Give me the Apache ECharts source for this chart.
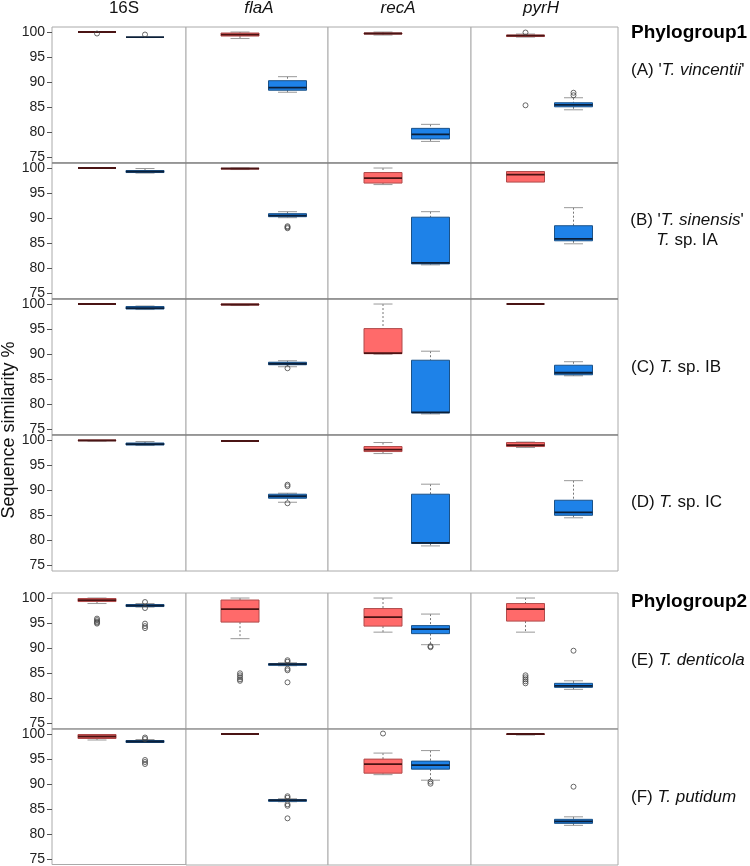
<!DOCTYPE html>
<html>
<head>
<meta charset="utf-8">
<script src="https://cdn.jsdelivr.net/npm/echarts@6/dist/echarts.min.js"></script>
<style>html,body{margin:0;padding:0;background:#fff}#c{width:750px;height:866px}</style>
</head>
<body>
<div id="c"></div>
<script>
// ---------------- DATA ----------------
const genes = ['16S', 'flaA', 'recA', 'pyrH'];
const geneItalic = [false, true, true, true];
const yTicks = [75, 80, 85, 90, 95, 100];
const groupPositions = [1, 2]; // red (within-taxon), blue (between-taxa)

// [min, q1, median, q3, max] per gene: [red, blue]
const statsA = [
  [[100, 100, 100, 100, 100], [98.9, 99.0, 99.0, 99.05, 99.1]],
  [[98.7, 99.2, 99.5, 99.8, 100], [88.0, 88.4, 88.9, 90.3, 91.1]],
  [[99.4, 99.6, 99.7, 99.8, 100], [78.2, 78.7, 79.6, 80.8, 81.6]],
  [[99.0, 99.1, 99.3, 99.4, 99.6], [84.5, 85.1, 85.5, 85.9, 86.9]]
];
const outliersA = [[[99.7], [99.5]], [[], []], [[], []], [[99.9, 85.4], [87.9, 87.4]]];

const statsB = [
  [[100, 100, 100, 100, 100], [99.0, 99.1, 99.3, 99.5, 99.9]],
  [[99.7, 99.8, 99.9, 99.9, 100], [90.1, 90.3, 90.5, 90.9, 91.3]],
  [[96.7, 97.0, 98.0, 99.1, 100], [80.7, 80.9, 81.1, 90.2, 91.3]],
  [[97.2, 97.2, 98.7, 99.3, 99.3], [84.9, 85.5, 85.9, 88.5, 92.1]]
];
const outliersB = [[[], []], [[], [88.4, 88.2, 88.0]], [[], []], [[], []]];

const statsC = [
  [[100, 100, 100, 100, 100], [98.9, 99.0, 99.2, 99.5, 99.6]],
  [[99.7, 99.8, 99.9, 100, 100], [87.5, 87.9, 88.1, 88.4, 88.7]],
  [[90.0, 90.1, 90.2, 95.1, 100], [78.1, 78.3, 78.4, 88.8, 90.6]],
  [[100, 100, 100, 100, 100], [85.7, 85.9, 86.3, 87.8, 88.5]]
];
const outliersC = [[[], []], [[], [87.2]], [[], []], [[], []]];

const statsD = [
  [[99.8, 99.9, 99.9, 100, 100], [98.9, 99.0, 99.2, 99.4, 99.7]],
  [[99.8, 99.8, 99.8, 99.8, 99.8], [87.6, 88.4, 88.8, 89.2, 89.4]],
  [[97.3, 97.7, 98.1, 98.7, 99.5], [78.9, 79.4, 79.5, 89.2, 91.2]],
  [[98.5, 98.7, 99.0, 99.5, 99.6], [84.5, 85.0, 85.6, 88.0, 91.9]]
];
const outliersD = [[[], []], [[], [91.1, 90.8, 87.4]], [[], []], [[], []]];

const statsE = [
  [[98.9, 99.3, 99.6, 99.9, 100], [98.2, 98.3, 98.5, 98.7, 98.9]],
  [[91.9, 95.2, 97.8, 99.6, 100], [86.5, 86.6, 86.8, 86.9, 87.1]],
  [[93.2, 94.4, 96.2, 97.9, 100], [90.7, 92.9, 93.8, 94.5, 96.8]],
  [[93.2, 95.4, 97.8, 98.9, 100], [81.8, 82.2, 82.5, 83.0, 83.5]]
];
const outliersE = [
  [[95.9, 95.6, 95.3, 95.1, 94.9], [99.2, 98.0, 94.9, 94.4, 94.0]],
  [[85.0, 84.6, 84.2, 83.8, 83.5], [87.6, 87.3, 85.9, 85.6, 83.2]],
  [[], [90.4, 90.2]],
  [[84.6, 84.2, 83.8, 83.4, 83.0], [89.5]]
];

const statsF = [
  [[98.8, 99.1, 99.5, 99.9, 100], [98.2, 98.3, 98.5, 98.7, 98.9]],
  [[99.9, 100, 100, 100, 100], [86.5, 86.6, 86.8, 86.9, 87.1]],
  [[91.9, 92.2, 94.0, 95.0, 96.2], [90.8, 93.0, 93.8, 94.6, 96.7]],
  [[99.8, 99.9, 100, 100, 100], [81.8, 82.2, 82.6, 83.0, 83.5]]
];
const outliersF = [
  [[], [99.3, 99.0, 94.8, 94.4, 94.0]],
  [[], [87.6, 87.3, 86.0, 85.7, 83.2]],
  [[100.1], [90.5, 90.1]],
  [[], [89.5]]
];

const rowStats = [statsA, statsB, statsC, statsD, statsE, statsF];
const rowOutliers = [outliersA, outliersB, outliersC, outliersD, outliersE, outliersF];

// ---------------- LAYOUT / STYLE ----------------
const FONT = 'Liberation Sans, Arial, Helvetica, sans-serif';
const colLeft = [52, 186, 328, 471];
const colRight = [186, 328, 471, 618];
const redX = [97, 240, 383, 525.5];
const blueX = [145, 287.5, 430.5, 573.5];
const rowTop = [27, 163, 299, 435, 593, 729];
const rowH = 136;
const yMin = 73.9, yMax = 101;
const palette = [
  { fill: '#ff6a6a', stroke: '#b04a4a', median: '#4a1414' },
  { fill: '#1e82e8', stroke: '#1b5288', median: '#0b1f38' }
];

const grids = [], xAxes = [], yAxes = [], series = [];
let idx = 0;
for (let r = 0; r < 6; r++) {
  for (let c = 0; c < 4; c++) {
    const unit = blueX[c] - redX[c];
    const xmin = groupPositions[0] - (redX[c] - colLeft[c]) / unit;
    const xmax = xmin + (colRight[c] - colLeft[c]) / unit;
    grids.push({
      left: colLeft[c], top: rowTop[r], width: colRight[c] - colLeft[c], height: rowH,
      show: true, borderColor: '#aaaaaa', borderWidth: 1, backgroundColor: '#fff'
    });
    xAxes.push({ type: 'value', gridIndex: idx, min: xmin, max: xmax, show: false });
    const first = c === 0;
    yAxes.push({
      type: 'value', gridIndex: idx, min: yMin, max: yMax,
      splitLine: { show: false },
      axisLine: { show: false },
      axisTick: first ? { show: true, customValues: yTicks, length: 5, lineStyle: { color: '#555' } } : { show: false },
      axisLabel: first ? {
        show: true, customValues: yTicks, margin: 7, fontSize: 14, color: '#222', fontFamily: FONT,
        formatter: v => (Math.abs(v % 5) < 1e-6 ? String(v) : '')
      } : { show: false }
    });
    const st = rowStats[r][c];
    const boxData = st.map((s, k) => [groupPositions[k], s[0], s[1], s[2], s[3], s[4], k]);
    series.push({
      type: 'custom', xAxisIndex: idx, yAxisIndex: idx, clip: false, silent: true,
      data: boxData,
      renderItem: (params, api) => {
        const x = api.value(0);
        const P = k => api.coord([x, api.value(k)]);
        const pMin = P(1), pQ1 = P(2), pMed = P(3), pQ3 = P(4), pMax = P(5);
        const cx = pMin[0];
        const hw = 19, cw = 9.5;
        const col = palette[api.value(6)];
        const children = [];
        if (pMax[1] < pQ3[1] - 0.5) {
          children.push({ type: 'line', shape: { x1: cx, y1: pMax[1], x2: cx, y2: pQ3[1] }, style: { stroke: '#777', lineWidth: 1, lineDash: [2, 2] } });
          children.push({ type: 'line', shape: { x1: cx - cw, y1: pMax[1], x2: cx + cw, y2: pMax[1] }, style: { stroke: '#999', lineWidth: 1 } });
        }
        if (pMin[1] > pQ1[1] + 0.5) {
          children.push({ type: 'line', shape: { x1: cx, y1: pQ1[1], x2: cx, y2: pMin[1] }, style: { stroke: '#777', lineWidth: 1, lineDash: [2, 2] } });
          children.push({ type: 'line', shape: { x1: cx - cw, y1: pMin[1], x2: cx + cw, y2: pMin[1] }, style: { stroke: '#999', lineWidth: 1 } });
        }
        const h = pQ1[1] - pQ3[1];
        if (h > 0.5) {
          children.push({ type: 'rect', shape: { x: cx - hw, y: pQ3[1], width: 2 * hw, height: h }, style: { fill: col.fill, stroke: col.stroke, lineWidth: 1 } });
        }
        children.push({ type: 'line', shape: { x1: cx - hw, y1: pMed[1], x2: cx + hw, y2: pMed[1] }, style: { stroke: col.median, lineWidth: 1.8 } });
        return { type: 'group', children };
      }
    });
    const pts = [];
    rowOutliers[r][c].forEach((list, k) => list.forEach(v => pts.push([groupPositions[k], v])));
    series.push({
      type: 'scatter', xAxisIndex: idx, yAxisIndex: idx, silent: true,
      symbol: 'circle', symbolSize: 5, data: pts,
      itemStyle: { color: 'rgba(255,255,255,0)', borderColor: '#444', borderWidth: 1 }
    });
    idx++;
  }
}

// ---------------- TEXT ----------------
const graphics = [];
const headerX = [124, 259, 398, 541];
genes.forEach((g, i) => graphics.push({
  type: 'text', x: headerX[i], y: 8,
  style: { text: g, font: (geneItalic[i] ? 'italic ' : '') + '17px ' + FONT, fill: '#111', align: 'center', verticalAlign: 'middle' }
}));
// darker separators between stacked rows
[163, 299, 435].forEach(y => graphics.push({
  type: 'line', shape: { x1: 52, y1: y, x2: 618, y2: y }, style: { stroke: '#6a6a6a', lineWidth: 1 }, z: 100
}));
graphics.push({ type: 'line', shape: { x1: 52, y1: 729, x2: 618, y2: 729 }, style: { stroke: '#8a8a8a', lineWidth: 1 }, z: 100 });

const rich = { n: { font: '17px ' + FONT, fill: '#111' }, i: { font: 'italic 17px ' + FONT, fill: '#111' } };
function label(text, x, y, align) {
  graphics.push({ type: 'text', x, y, style: { text, rich, align: align || 'left', verticalAlign: 'middle' } });
}
graphics.push({ type: 'text', x: 631, y: 33, style: { text: 'Phylogroup1', font: 'bold 19px ' + FONT, fill: '#000', verticalAlign: 'middle' } });
graphics.push({ type: 'text', x: 631, y: 602, style: { text: 'Phylogroup2', font: 'bold 19px ' + FONT, fill: '#000', verticalAlign: 'middle' } });
label("{n|(A) '}{i|T. vincentii}{n|'}", 631, 70);
label("{n|(B) '}{i|T. sinensis}{n|'}", 687, 220, 'center');
label("{i|T.}{n| sp. IA}", 687, 240, 'center');
label("{n|(C) }{i|T.}{n| sp. IB}", 631, 367);
label("{n|(D) }{i|T.}{n| sp. IC}", 631, 502);
label("{n|(E) }{i|T. denticola}", 631, 660);
label("{n|(F) }{i|T. putidum}", 631, 797);
graphics.push({
  type: 'text', x: 9, y: 430, rotation: Math.PI / 2,
  style: { text: 'Sequence similarity %', font: '18px ' + FONT, fill: '#111', align: 'center', verticalAlign: 'middle' }
});

const chart = echarts.init(document.getElementById('c'), null, { renderer: 'canvas' });
chart.setOption({
  animation: false,
  backgroundColor: '#fff',
  grid: grids, xAxis: xAxes, yAxis: yAxes, series,
  graphic: { elements: graphics }
});
</script>
</body>
</html>
